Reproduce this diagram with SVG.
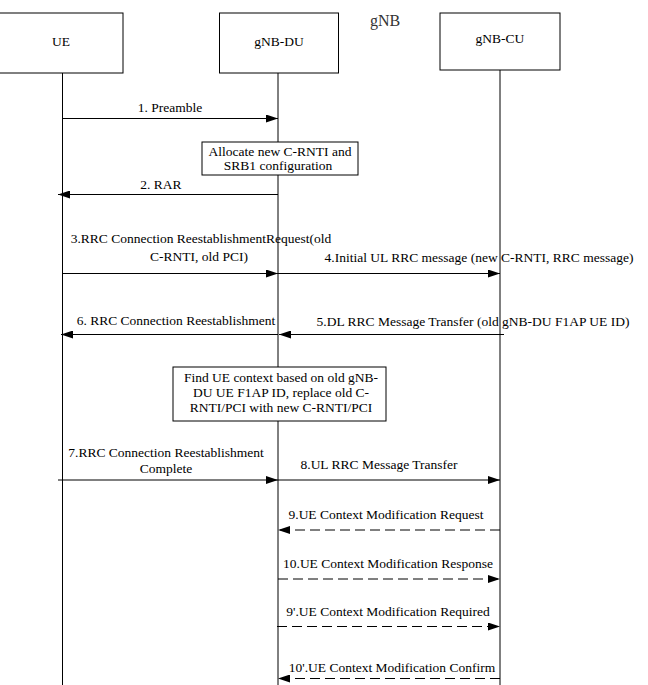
<svg xmlns="http://www.w3.org/2000/svg" width="648" height="685" viewBox="0 0 648 685">
<defs>
<marker id="ah" markerUnits="userSpaceOnUse" markerWidth="13" markerHeight="8" refX="12" refY="4" orient="auto"><path d="M0,0 L12,4 L0,8 z" fill="#000"/></marker>
<style>
text{font-family:"Liberation Serif","Times New Roman",serif;font-size:13.5px;fill:#000}
.box{fill:#fff;stroke:#000;stroke-width:1}
.life{stroke:#000;stroke-width:1}
.msg{stroke:#000;stroke-width:1;fill:none;marker-end:url(#ah)}
.dash{stroke-dasharray:10 5}
.m{text-anchor:middle}
</style>
</defs>
<rect width="648" height="685" fill="#fff"/>
<g id="lifelines">
<line class="life" x1="62.5" y1="73" x2="62.5" y2="685"/>
<line class="life" x1="278" y1="73" x2="278" y2="685"/>
<line class="life" x1="500" y1="70" x2="500" y2="685"/>
</g>
<g id="UE"><rect class="box" x="-1" y="13" width="124" height="60"/><text class="m" x="61" y="46">UE</text></g>
<g id="gNB-DU"><rect class="box" x="219.5" y="13" width="119" height="60"/><text class="m" x="279" y="46">gNB-DU</text></g>
<g id="gNB-CU"><rect class="box" x="440" y="13" width="120" height="57"/><text class="m" x="500" y="43">gNB-CU</text></g>
<g id="gNB"><text x="370" y="26" style="font-size:16px;fill:#333">gNB</text></g>
<g id="note-allocate"><rect class="box" x="202" y="142" width="156" height="33"/><text class="m" x="280" y="156">Allocate new C-RNTI and</text><text class="m" x="278" y="170">SRB1 configuration</text></g>
<g id="note-find"><rect class="box" x="173" y="367" width="213" height="54"/><text class="m" x="281" y="382">Find UE context based on old gNB-</text><text class="m" x="281" y="397">DU UE F1AP ID, replace old C-</text><text class="m" x="281" y="412">RNTI/PCI with new C-RNTI/PCI</text></g>
<g id="connectors">
<line class="msg" x1="62.5" y1="118.5" x2="278" y2="118.5"/>
<line class="msg" x1="278" y1="194.5" x2="58" y2="194.5"/>
<line class="msg" x1="62.5" y1="273.5" x2="278" y2="273.5"/>
<line class="msg" x1="278" y1="273.5" x2="500" y2="273.5"/>
<line class="msg" x1="504" y1="334.5" x2="279" y2="334.5"/>
<line class="msg" x1="278" y1="334.5" x2="61" y2="334.5"/>
<line class="msg" x1="58" y1="480" x2="278" y2="480"/>
<line class="msg" x1="278" y1="480" x2="500" y2="480"/>
<line class="msg dash" x1="500" y1="530" x2="278" y2="530"/>
<line class="msg dash" x1="278" y1="579" x2="500" y2="579"/>
<line class="msg dash" x1="277" y1="626.5" x2="500" y2="626.5"/>
<line class="msg dash" x1="500" y1="678.5" x2="278" y2="678.5"/>
</g>
<g id="labels">
<text class="m" x="170" y="112">1. Preamble</text>
<text class="m" x="161" y="189">2. RAR</text>
<text class="m" x="201" y="243">3.RRC Connection ReestablishmentRequest(old</text>
<text class="m" x="199" y="261">C-RNTI, old PCI)</text>
<text class="m" x="479" y="262">4.Initial UL RRC message (new C-RNTI, RRC message)</text>
<text class="m" x="176" y="325">6. RRC Connection Reestablishment</text>
<text class="m" x="473" y="326">5.DL RRC Message Transfer (old gNB-DU F1AP UE ID)</text>
<text class="m" x="166" y="457">7.RRC Connection Reestablishment</text>
<text class="m" x="166" y="473">Complete</text>
<text class="m" x="379" y="469">8.UL RRC Message Transfer</text>
<text class="m" x="386" y="519">9.UE Context Modification Request</text>
<text class="m" x="388" y="568">10.UE Context Modification Response</text>
<text class="m" x="388" y="616">9'.UE Context Modification Required</text>
<text class="m" x="392" y="672">10'.UE Context Modification Confirm</text>
</g>
</svg>
